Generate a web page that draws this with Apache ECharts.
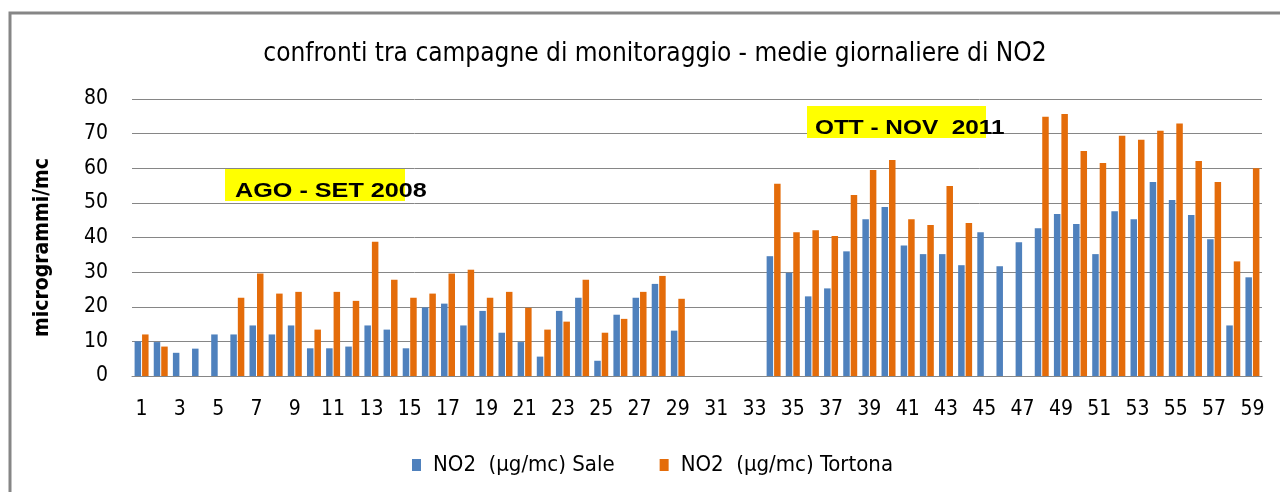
<!DOCTYPE html>
<html>
<head>
<meta charset="utf-8">
<script src="https://cdn.jsdelivr.net/npm/echarts@6/dist/echarts.min.js"></script>
<style>
  html, body { margin: 0; padding: 0; background: #fff; }
  #chart { width: 1280px; height: 492px; }
</style>
</head>
<body>
<div id="chart"></div>
<script>
// giorni di campagna 1..59
var days = [];
for (var d = 1; d <= 59; d++) days.push(String(d));

// NO2 (µg/mc) Sale, null = nessun dato
var sale = [
  10, 9.8, 6.7, 7.9, 12, 12, 14.6, 12, 14.6, 8,
  8, 8.5, 14.6, 13.4, 8, 19.8, 20.9, 14.6, 18.8, 12.5,
  9.8, 5.6, 18.8, 22.6, 4.4, 17.7, 22.6, 26.6, 13.1, null,
  null, null, null, 34.6, 29.8, 23, 25.3, 36, 45.3, 48.8,
  37.7, 35.2, 35.2, 32, 41.5, 31.7, 38.6, 42.7, 46.8, 43.9,
  35.2, 47.6, 45.3, 56, 50.8, 46.5, 39.5, 14.6, 28.5
];

// NO2 (µg/mc) Tortona
var tortona = [
  12, 8.5, null, null, null, 22.6, 29.6, 23.8, 24.3, 13.4,
  24.3, 21.7, 38.8, 27.8, 22.6, 23.8, 29.6, 30.7, 22.6, 24.3,
  19.7, 13.4, 15.7, 27.8, 12.5, 16.5, 24.3, 28.9, 22.3, null,
  null, null, null, 55.5, 41.5, 42.1, 40.4, 52.3, 59.5, 62.4,
  45.3, 43.6, 54.9, 44.2, null, null, null, 74.9, 75.7, 65,
  61.5, 69.4, 68.2, 70.8, 72.9, 62.1, 56, 33.1, 60
];

var seriesNames = ['NO2  (µg/mc) Sale', 'NO2  (µg/mc) Tortona'];

var font = "'Liberation Sans Narrow', 'DejaVu Sans Condensed', sans-serif";
var boxFont = 'bold 21px "Liberation Sans", Arial, sans-serif';

var chart = echarts.init(document.getElementById('chart'));

var option = {
  animation: false,
  backgroundColor: '#fff',
  title: {
    text: 'confronti tra campagne di monitoraggio - medie giornaliere di NO2',
    left: 650,
    top: 36,
    textAlign: 'center',
    textStyle: { fontFamily: font, fontSize: 26, fontWeight: 'normal', color: '#000' }
  },
  legend: {
    data: seriesNames,
    icon: 'rect',
    left: 407,
    top: 449,
    itemWidth: 9,
    itemHeight: 12,
    itemGap: 45,
    textStyle: { fontFamily: font, fontSize: 22, color: '#000', padding: [0, 0, 0, 7] }
  },
  grid: { left: 132, right: 18, top: 99, bottom: 116 },
  xAxis: {
    type: 'category',
    data: days,
    axisTick: { show: false },
    axisLine: { lineStyle: { color: '#868686', width: 1 } },
    axisLabel: { interval: 1, margin: 23, fontFamily: font, fontSize: 21, color: '#000' }
  },
  yAxis: {
    type: 'value',
    min: 0,
    max: 80,
    interval: 10,
    name: 'microgrammi/mc',
    nameLocation: 'middle',
    nameGap: 79,
    nameTextStyle: { fontFamily: font, fontSize: 21, fontWeight: 'bold', color: '#000', padding: [0, 20, 0, 0] },
    axisLabel: { margin: 24, fontFamily: font, fontSize: 21, color: '#000' },
    splitLine: { lineStyle: { color: '#868686', width: 1 } }
  },
  series: [
    { name: seriesNames[0], type: 'bar', data: sale, barWidth: 6.5, barGap: '15%', itemStyle: { color: '#4F81BD' } },
    { name: seriesNames[1], type: 'bar', data: tortona, barWidth: 6.5, itemStyle: { color: '#E46C0A' } }
  ],
  graphic: [
    // cornice esterna
    { type: 'rect', shape: { x: 10, y: 13, width: 1300, height: 520 }, style: { fill: 'none', stroke: '#868686', lineWidth: 3 }, z: -1 },
    // etichette delle due campagne
    { type: 'rect', shape: { x: 225, y: 169, width: 180, height: 32 }, style: { fill: '#FFFF00' }, z: 10 },
    { type: 'text', x: 235, y: 191, scaleX: 1.2, style: { text: 'AGO - SET 2008', fill: '#000', font: boxFont, textVerticalAlign: 'middle' }, z: 11 },
    { type: 'rect', shape: { x: 807, y: 106, width: 179, height: 32 }, style: { fill: '#FFFF00' }, z: 10 },
    { type: 'text', x: 815, y: 128, scaleX: 1.16, style: { text: 'OTT - NOV  2011', fill: '#000', font: boxFont, textVerticalAlign: 'middle' }, z: 11 }
  ]
};

chart.setOption(option);
</script>
</body>
</html>
